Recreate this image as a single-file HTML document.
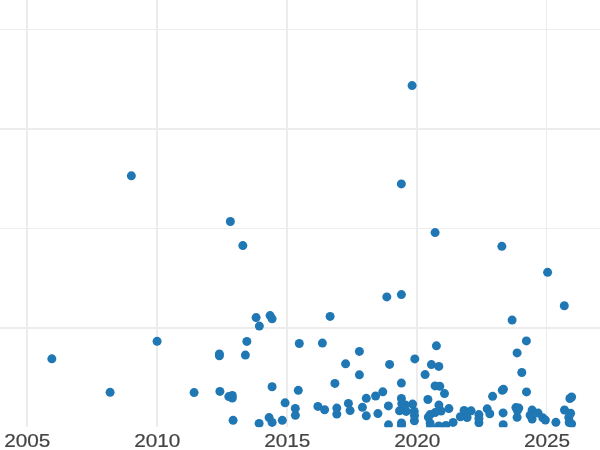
<!DOCTYPE html>
<html><head><meta charset="utf-8"><style>
html,body{margin:0;padding:0;background:#fff;}
body{width:600px;height:450px;overflow:hidden;position:relative;font-family:"Liberation Sans",sans-serif;}
svg{position:absolute;left:0;top:0;will-change:transform;opacity:0.999;}
.t text{font-family:"Liberation Sans",sans-serif;}
</style></head><body>
<svg width="600" height="450" viewBox="0 0 600 450">
<defs><clipPath id="c"><rect x="0" y="0" width="600" height="427.3"/></clipPath></defs>
<rect width="600" height="450" fill="#fff"/>
<g shape-rendering="crispEdges">
<rect x="26" y="0" width="2" height="427" fill="#ececec"/>
<rect x="156" y="0" width="2" height="427" fill="#ececec"/>
<rect x="286" y="0" width="2" height="427" fill="#ececec"/>
<rect x="416" y="0" width="2" height="427" fill="#ececec"/>
<rect x="546" y="0" width="1" height="427" fill="#ededed"/>
<rect x="0" y="29" width="600" height="1" fill="#ededed"/>
<rect x="0" y="128" width="600" height="2" fill="#ececec"/>
<rect x="0" y="228" width="600" height="1" fill="#ededed"/>
<rect x="0" y="327" width="600" height="2" fill="#ececec"/>
</g>
<g clip-path="url(#c)" fill="#1f77b4">
<circle cx="412.1" cy="85.62" r="4.5"/>
<circle cx="131.35" cy="175.87" r="4.5"/>
<circle cx="401.35" cy="183.92" r="4.5"/>
<circle cx="230.35" cy="221.52" r="4.5"/>
<circle cx="435.1" cy="232.62" r="4.5"/>
<circle cx="242.85" cy="245.62" r="4.5"/>
<circle cx="501.85" cy="246.37" r="4.5"/>
<circle cx="547.6" cy="272.37" r="4.5"/>
<circle cx="564.3" cy="305.72" r="4.5"/>
<circle cx="51.85" cy="358.87" r="4.5"/>
<circle cx="110.1" cy="392.37" r="4.5"/>
<circle cx="157.1" cy="341.37" r="4.5"/>
<circle cx="256.1" cy="317.62" r="4.5"/>
<circle cx="270.1" cy="315.62" r="4.5"/>
<circle cx="272.1" cy="318.87" r="4.5"/>
<circle cx="259.35" cy="326.12" r="4.5"/>
<circle cx="246.85" cy="341.42" r="4.5"/>
<circle cx="219.4" cy="353.92" r="4.5"/>
<circle cx="219.4" cy="355.72" r="4.5"/>
<circle cx="245.4" cy="355.12" r="4.5"/>
<circle cx="272.1" cy="386.72" r="4.5"/>
<circle cx="194.1" cy="392.62" r="4.5"/>
<circle cx="219.9" cy="391.42" r="4.5"/>
<circle cx="228.8" cy="396.62" r="4.5"/>
<circle cx="232.3" cy="395.42" r="4.5"/>
<circle cx="232.3" cy="398.12" r="4.5"/>
<circle cx="285.1" cy="402.82" r="4.5"/>
<circle cx="233.1" cy="420.32" r="4.5"/>
<circle cx="259.1" cy="423.42" r="4.5"/>
<circle cx="269.1" cy="417.62" r="4.5"/>
<circle cx="272.1" cy="422.42" r="4.5"/>
<circle cx="282.3" cy="420.32" r="4.5"/>
<circle cx="295.3" cy="408.42" r="4.5"/>
<circle cx="295.4" cy="415.32" r="4.5"/>
<circle cx="298.3" cy="390.32" r="4.5"/>
<circle cx="330.1" cy="316.42" r="4.5"/>
<circle cx="386.8" cy="296.92" r="4.5"/>
<circle cx="299.3" cy="343.52" r="4.5"/>
<circle cx="322.4" cy="343.12" r="4.5"/>
<circle cx="359.4" cy="351.42" r="4.5"/>
<circle cx="345.6" cy="363.82" r="4.5"/>
<circle cx="389.6" cy="364.42" r="4.5"/>
<circle cx="359.4" cy="374.82" r="4.5"/>
<circle cx="334.9" cy="383.42" r="4.5"/>
<circle cx="382.8" cy="391.82" r="4.5"/>
<circle cx="375.6" cy="396.02" r="4.5"/>
<circle cx="366.3" cy="398.32" r="4.5"/>
<circle cx="348.4" cy="403.42" r="4.5"/>
<circle cx="388.4" cy="405.92" r="4.5"/>
<circle cx="317.9" cy="406.42" r="4.5"/>
<circle cx="362.4" cy="407.32" r="4.5"/>
<circle cx="336.8" cy="408.12" r="4.5"/>
<circle cx="324.6" cy="409.72" r="4.5"/>
<circle cx="350.1" cy="410.62" r="4.5"/>
<circle cx="377.9" cy="413.62" r="4.5"/>
<circle cx="366.3" cy="415.82" r="4.5"/>
<circle cx="336.8" cy="414.12" r="4.5"/>
<circle cx="388.5" cy="424.82" r="4.5"/>
<circle cx="401.4" cy="294.62" r="4.5"/>
<circle cx="436.4" cy="345.82" r="4.5"/>
<circle cx="414.8" cy="358.92" r="4.5"/>
<circle cx="431.4" cy="364.62" r="4.5"/>
<circle cx="438.8" cy="366.42" r="4.5"/>
<circle cx="425.1" cy="374.62" r="4.5"/>
<circle cx="401.4" cy="383.12" r="4.5"/>
<circle cx="435.1" cy="385.92" r="4.5"/>
<circle cx="439.8" cy="386.32" r="4.5"/>
<circle cx="444.5" cy="393.62" r="4.5"/>
<circle cx="401.4" cy="398.52" r="4.5"/>
<circle cx="427.9" cy="399.52" r="4.5"/>
<circle cx="438.9" cy="405.12" r="4.5"/>
<circle cx="448.9" cy="408.62" r="4.5"/>
<circle cx="412.6" cy="404.12" r="4.5"/>
<circle cx="414.2" cy="411.32" r="4.5"/>
<circle cx="414.4" cy="420.72" r="4.5"/>
<circle cx="414.5" cy="415.52" r="4.5"/>
<circle cx="399.5" cy="410.82" r="4.5"/>
<circle cx="406.2" cy="411.42" r="4.5"/>
<circle cx="405.4" cy="404.92" r="4.5"/>
<circle cx="401.8" cy="403.62" r="4.5"/>
<circle cx="401.5" cy="422.92" r="4.5"/>
<circle cx="401.5" cy="425.42" r="4.5"/>
<circle cx="464.1" cy="410.42" r="4.5"/>
<circle cx="471.1" cy="410.82" r="4.5"/>
<circle cx="478.9" cy="414.62" r="4.5"/>
<circle cx="460.4" cy="416.72" r="4.5"/>
<circle cx="467.1" cy="417.52" r="4.5"/>
<circle cx="441.1" cy="411.12" r="4.5"/>
<circle cx="435.1" cy="412.62" r="4.5"/>
<circle cx="430.1" cy="414.62" r="4.5"/>
<circle cx="428.3" cy="417.12" r="4.5"/>
<circle cx="430.1" cy="423.12" r="4.5"/>
<circle cx="430.5" cy="426.12" r="4.5"/>
<circle cx="438.8" cy="425.92" r="4.5"/>
<circle cx="445.9" cy="425.42" r="4.5"/>
<circle cx="453.1" cy="422.42" r="4.5"/>
<circle cx="478.9" cy="422.82" r="4.5"/>
<circle cx="512.1" cy="320.12" r="4.5"/>
<circle cx="526.4" cy="340.92" r="4.5"/>
<circle cx="517.1" cy="352.92" r="4.5"/>
<circle cx="521.8" cy="372.52" r="4.5"/>
<circle cx="526.5" cy="391.92" r="4.5"/>
<circle cx="503.4" cy="389.22" r="4.5"/>
<circle cx="502.3" cy="390.22" r="4.5"/>
<circle cx="492.6" cy="396.32" r="4.5"/>
<circle cx="487.2" cy="408.82" r="4.5"/>
<circle cx="489.8" cy="413.72" r="4.5"/>
<circle cx="478.9" cy="418.62" r="4.5"/>
<circle cx="503.1" cy="412.92" r="4.5"/>
<circle cx="503.2" cy="424.72" r="4.5"/>
<circle cx="515.9" cy="407.62" r="4.5"/>
<circle cx="518.8" cy="408.12" r="4.5"/>
<circle cx="517.1" cy="417.32" r="4.5"/>
<circle cx="517.4" cy="410.52" r="4.5"/>
<circle cx="532.1" cy="410.12" r="4.5"/>
<circle cx="530.1" cy="415.12" r="4.5"/>
<circle cx="532.1" cy="419.12" r="4.5"/>
<circle cx="538.1" cy="413.12" r="4.5"/>
<circle cx="542.8" cy="417.82" r="4.5"/>
<circle cx="545.4" cy="420.12" r="4.5"/>
<circle cx="555.9" cy="422.32" r="4.5"/>
<circle cx="569.9" cy="398.52" r="4.5"/>
<circle cx="571.6" cy="397.02" r="4.5"/>
<circle cx="564.5" cy="410.02" r="4.5"/>
<circle cx="570.6" cy="413.22" r="4.5"/>
<circle cx="568.8" cy="417.42" r="4.5"/>
<circle cx="569.2" cy="422.52" r="4.5"/>
<circle cx="571.6" cy="423.82" r="4.5"/>
</g>
<g class="t" font-size="18px" fill="#444" stroke="#444" stroke-width="0.2" text-anchor="middle">
<text x="27.25" y="446.5" textLength="46.2" lengthAdjust="spacingAndGlyphs">2005</text>
<text x="157.25" y="446.5" textLength="46.2" lengthAdjust="spacingAndGlyphs">2010</text>
<text x="287.25" y="446.5" textLength="46.2" lengthAdjust="spacingAndGlyphs">2015</text>
<text x="417.25" y="446.5" textLength="46.2" lengthAdjust="spacingAndGlyphs">2020</text>
<text x="547" y="446.5" textLength="46.2" lengthAdjust="spacingAndGlyphs">2025</text>
</g>
</svg>
</body></html>
